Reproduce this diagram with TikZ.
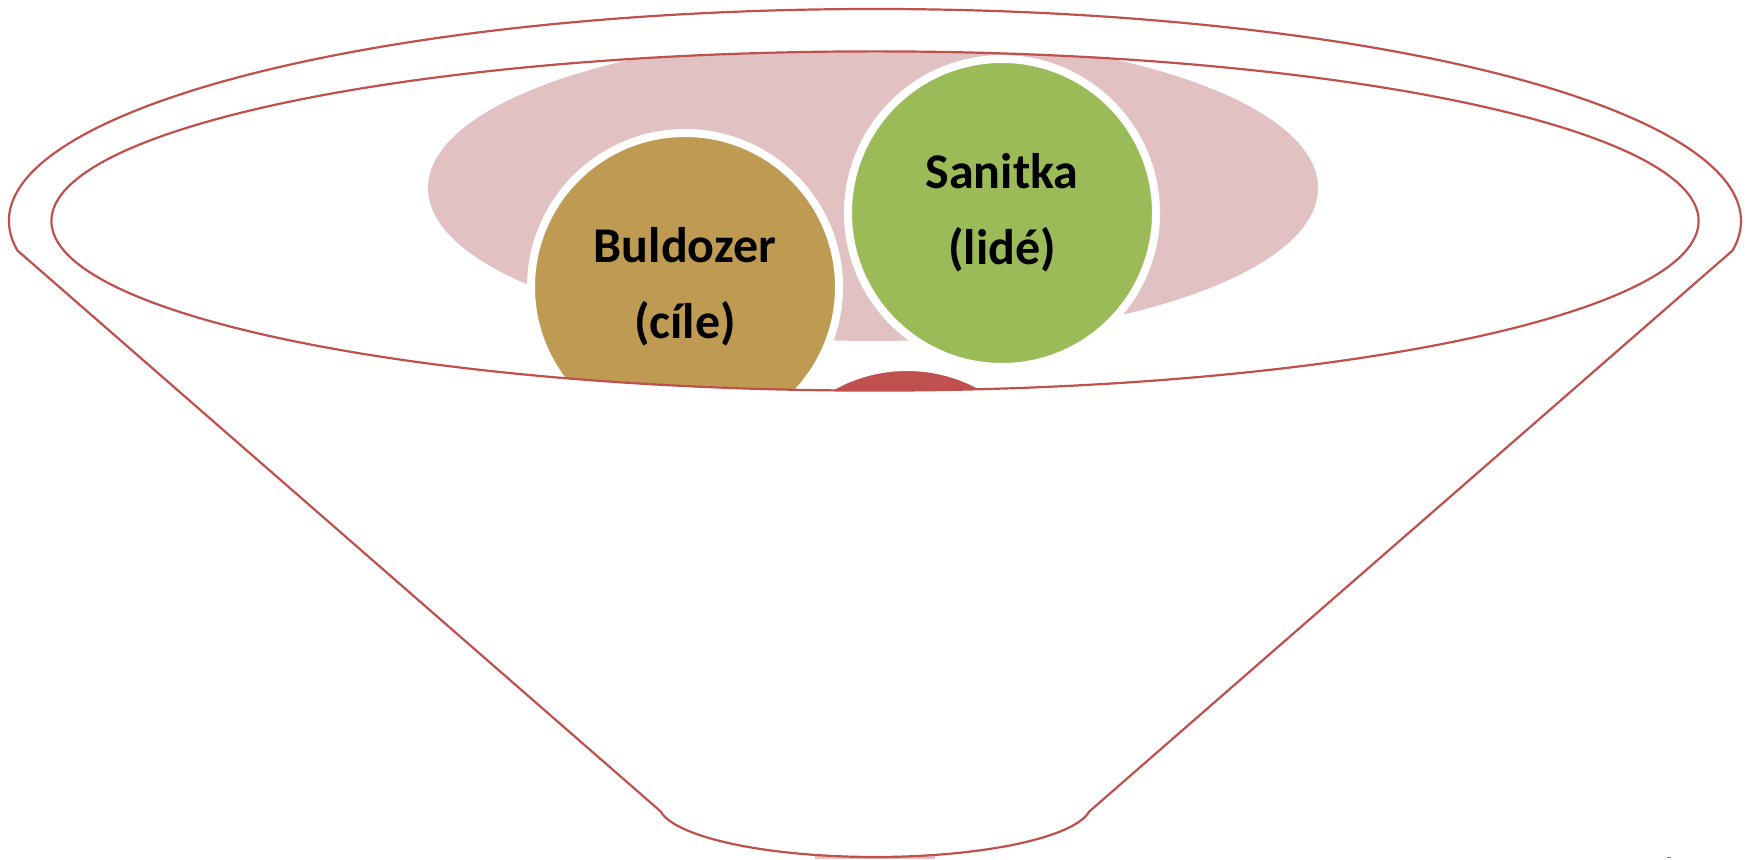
\documentclass[tikz,border=0pt]{standalone}
\usepackage{fontspec}
\setmainfont{Carlito}
\usetikzlibrary{shapes.geometric}
\definecolor{funred}{RGB}{192,80,77}
\definecolor{pinkfill}{RGB}{226,193,194}
\definecolor{brownfill}{RGB}{190,154,82}
\definecolor{greenfill}{RGB}{155,187,89}
\definecolor{redfill}{RGB}{192,80,77}
\begin{document}
\begin{tikzpicture}[x=1pt,y=1pt,
  funnelline/.style={draw=funred, line width=2.2pt},
  item/.style={circle, minimum size=308pt, inner sep=0pt, draw=white, line width=8pt,
    font=\bfseries\fontsize{50}{76}\selectfont, align=center, text=black}]
\useasboundingbox (0,0) rectangle (1750,859);
\fill[white] (0,0) rectangle (1750,859);
% pink background ellipse
\fill[pinkfill] (873,671) ellipse [x radius=445, y radius=153];
% sliver below the funnel
\fill[pinkfill] (815,0) rectangle (935,6);
% items
\node[item, fill=brownfill] (buld) at (685,572) {Buldozer\\(cíle)};
\node[item, fill=greenfill] (san) at (1002,646) {Sanitka\\(lidé)};
\node[item, fill=redfill] (third) at (907,338) {};
% funnel body (white, with the inner ellipse open)
\path[fill=white, even odd rule]
  (17.43,608.5) arc[start angle=188, end angle=-8, x radius=866, y radius=212]
  -- (1089.39,47.62) arc[start angle=-8, end angle=-172, x radius=216.5, y radius=53]
  -- cycle
  (875,638) ellipse [x radius=823.6, y radius=169.6];
\draw[funnelline]
  (17.43,608.5) arc[start angle=188, end angle=-8, x radius=866, y radius=212]
  -- (1089.39,47.62) arc[start angle=-8, end angle=-172, x radius=216.5, y radius=53]
  -- cycle;
\draw[funnelline] (875,638) ellipse [x radius=823.6, y radius=169.6];
% tiny mark
\fill[gray] (1667,0.6) rectangle (1671,1.6);
\end{tikzpicture}
\end{document}
